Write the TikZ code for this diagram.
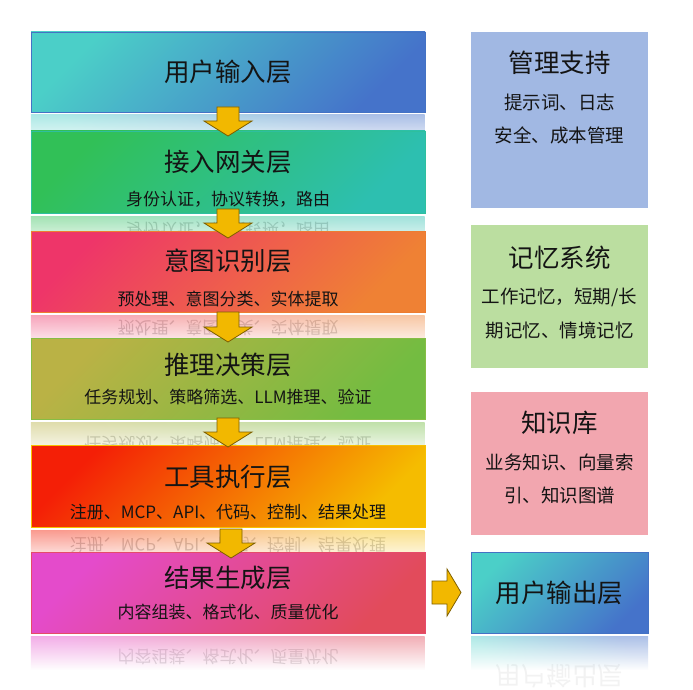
\documentclass[tikz,border=0pt]{standalone}
\usepackage{fontspec}
\setmainfont{Noto Sans CJK SC}
\usetikzlibrary{fadings}
\definecolor{LoneA}{HTML}{4BCFC8}\definecolor{LoneB}{HTML}{4573CA}\definecolor{LoneD}{HTML}{4472C4}
\definecolor{LtwoA}{HTML}{31C057}\definecolor{LtwoB}{HTML}{2DBFB0}\definecolor{LtwoD}{HTML}{2EBF9E}
\definecolor{LthrA}{HTML}{EE3569}\definecolor{LthrB}{HTML}{EF8134}\definecolor{LthrD}{HTML}{ED7D31}
\definecolor{LfouA}{HTML}{BAB245}\definecolor{LfouB}{HTML}{73BC41}\definecolor{LfouD}{HTML}{86BD45}
\definecolor{LfivA}{HTML}{F41F06}\definecolor{LfivB}{HTML}{F5BC00}\definecolor{LfivD}{HTML}{F7C000}
\definecolor{LsixA}{HTML}{E44BCB}\definecolor{LsixB}{HTML}{E24B5B}\definecolor{LsixD}{HTML}{E54B6A}
\definecolor{RoneF}{HTML}{A1B8E3}\definecolor{RtwoF}{HTML}{BBDEA0}\definecolor{RthrF}{HTML}{F2A6AF}
\definecolor{gold}{HTML}{F2B800}\definecolor{goldline}{HTML}{7F6000}
\tikzfading[name=reflfade, top color=transparent!55, bottom color=transparent!100]
\tikzset{
  box/.style={rectangle, inner sep=0pt, outer sep=0pt, line width=0.9pt, anchor=north west},
  ttl/.style={font=\fontsize{25.5}{30}\selectfont, text=black!92, inner sep=0pt},
  subtxt/.style={font=\fontsize{17}{20}\selectfont, text=black!92, inner sep=0pt},
  rsub/.style={font=\fontsize{18.5}{22}\selectfont, text=black!92, inner sep=0pt},
  mirrortxt/.style={font=\fontsize{17}{20}\selectfont, text=black, inner sep=0pt},
  mirrorttl/.style={font=\fontsize{25.5}{30}\selectfont, text=black, inner sep=0pt},
  blockarrow/.style={fill=gold, draw=goldline, line width=0.8pt, line join=miter},
}
\newcommand\mydownarrow[4]{%
  \path[blockarrow] (#2-11,#3) -- (#2+11,#3) -- (#2+11,#4-15) -- (#2+24,#4-15) -- (#2,#4) -- (#2-24,#4-15) -- (#2-11,#4-15) -- cycle;
  \coordinate (#1) at (#2,#3);}
\begin{document}
\begin{tikzpicture}[x=1pt,y=-1pt]
\useasboundingbox[fill=white] (0,0) rectangle (693,690);
% mirrored texts (under the reflections)
\begin{scope}[transparency group, opacity=0.2]
\node[mirrortxt] (m2) at (228,230) {\scalebox{1}[-1]{身份认证，协议转换，路由}};
\node[mirrortxt] (m3) at (228,328) {\scalebox{1}[-1]{预处理、意图分类、实体提取}};
\node[mirrortxt] (m4) at (228,444) {\scalebox{1}[-1]{任务规划、策略筛选、LLM推理、验证}};
\node[mirrortxt] (m5) at (228,545) {\scalebox{1}[-1]{注册、MCP、API、代码、控制、结果处理}};
\end{scope}
\begin{scope}[transparency group, opacity=0.14]
\node[mirrortxt] (m6) at (228,657) {\scalebox{1}[-1]{内容组装、格式化、质量优化}};
\end{scope}
\begin{scope}[transparency group, opacity=0.05]
\node[mirrorttl] (m7) at (559.5,676.5) {\scalebox{1}[-1]{用户输出层}};
\end{scope}
% reflections
\shade[left color=LoneA, right color=LoneB, shading angle=135, path fading=reflfade] (31,115) rectangle (425,150);
\shade[left color=LtwoA, right color=LtwoB, shading angle=135, path fading=reflfade] (31,216) rectangle (425,251);
\shade[left color=LthrA, right color=LthrB, shading angle=135, path fading=reflfade] (31,315) rectangle (425,350);
\shade[left color=LfouA, right color=LfouB, shading angle=135, path fading=reflfade] (31,422) rectangle (425,457);
\shade[left color=LfivA, right color=LfivB, shading angle=135, path fading=reflfade] (31,530) rectangle (425,565);
\shade[left color=LsixA, right color=LsixB, shading angle=135, path fading=reflfade] (31,636) rectangle (425,670);
\shade[left color=LoneA, right color=LoneB, shading angle=135, path fading=reflfade] (471,636) rectangle (648,670);
% left boxes
\node[box, draw=LoneD, left color=LoneA, right color=LoneB, shading angle=45, minimum width=394pt, minimum height=80pt] (L1) at (31,32) {};
\node[box, draw=LtwoD, left color=LtwoA, right color=LtwoB, shading angle=45, minimum width=394pt, minimum height=82pt] (L2) at (31,131) {};
\node[box, draw=LthrD, left color=LthrA, right color=LthrB, shading angle=45, minimum width=394pt, minimum height=81pt] (L3) at (31,231) {};
\node[box, draw=LfouD, left color=LfouA, right color=LfouB, shading angle=45, minimum width=394pt, minimum height=81pt] (L4) at (31,338) {};
\node[box, draw=LfivD, left color=LfivA, right color=LfivB, shading angle=45, minimum width=394pt, minimum height=82pt] (L5) at (31,445) {};
\node[box, draw=LsixD, left color=LsixA, right color=LsixB, shading angle=45, minimum width=394pt, minimum height=81pt] (L6) at (31,552) {};
% right boxes
\node[box, fill=RoneF, minimum width=177pt, minimum height=176pt] (R1) at (471,32) {};
\node[box, fill=RtwoF, minimum width=177pt, minimum height=143pt] (R2) at (471,225) {};
\node[box, fill=RthrF, minimum width=177pt, minimum height=143pt] (R3) at (471,392) {};
\node[box, draw=LoneD, left color=LoneA, right color=LoneB, shading angle=45, minimum width=177pt, minimum height=81pt] (R4) at (471,552) {};
% texts
\node[ttl] (L1t) at (228,72) {用户输入层};
\node[ttl] (L2t) at (228,162) {接入网关层};
\node[subtxt] (L2s) at (228,199) {身份认证，协议转换，路由};
\node[ttl] (L3t) at (228,261) {意图识别层};
\node[subtxt] (L3s) at (228,299) {预处理、意图分类、实体提取};
\node[ttl] (L4t) at (228,365) {推理决策层};
\node[subtxt] (L4s) at (228,397) {任务规划、策略筛选、LLM推理、验证};
\node[ttl] (L5t) at (228,477) {工具执行层};
\node[subtxt] (L5s) at (228,512) {注册、MCP、API、代码、控制、结果处理};
\node[ttl] (L6t) at (228,578) {结果生成层};
\node[subtxt] (L6s) at (228,612) {内容组装、格式化、质量优化};
\node[ttl] (R1t) at (559.5,63) {管理支持};
\node[rsub] (R1a) at (559.5,102) {提示词、日志};
\node[rsub] (R1b) at (559.5,135) {安全、成本管理};
\node[ttl] (R2t) at (559.5,258) {记忆系统};
\node[rsub] (R2a) at (559.5,297) {工作记忆，短期/长};
\node[rsub] (R2b) at (559.5,330) {期记忆、情境记忆};
\node[ttl] (R3t) at (559.5,423) {知识库};
\node[rsub] (R3a) at (559.5,462) {业务知识、向量索};
\node[rsub] (R3b) at (559.5,495) {引、知识图谱};
\node[ttl] (R4t) at (559.5,592.5) {用户输出层};
% arrows
\mydownarrow{A1}{228}{107}{136}
\mydownarrow{A2}{228}{209}{238}
\mydownarrow{A3}{228}{312}{342}
\mydownarrow{A4}{228}{418}{447}
\mydownarrow{A5}{231}{529}{558}
\path[blockarrow] (432,581) -- (447,581) -- (447,569) -- (461,592.5) -- (447,616) -- (447,604) -- (432,604) -- cycle;
\coordinate (A6) at (432,592.5);
\end{tikzpicture}
\end{document}
